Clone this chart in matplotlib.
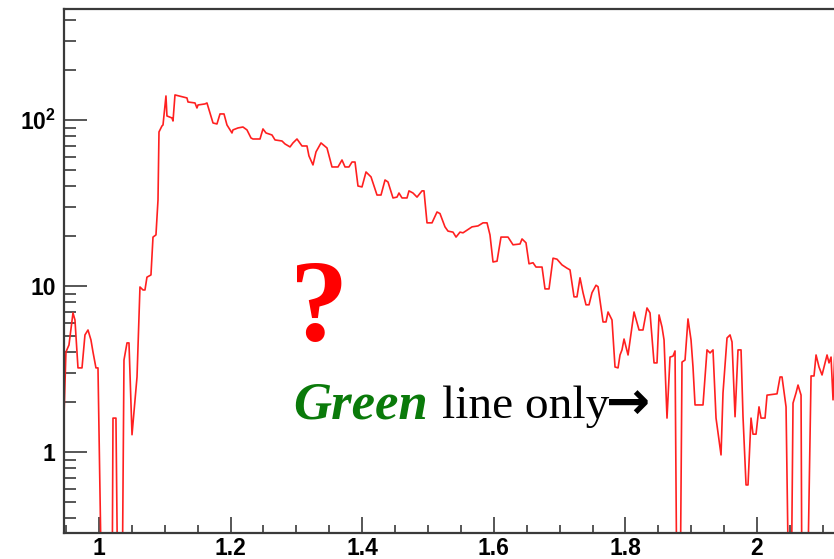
import matplotlib
matplotlib.use("Agg")
import matplotlib.pyplot as plt
import matplotlib.ticker as ticker

plt.rcParams["mathtext.fontset"] = "custom"
plt.rcParams["mathtext.rm"] = "Liberation Sans"
plt.rcParams["mathtext.bf"] = "Liberation Sans:bold"

# histogram (bin centre, entries); 0.1 marks empty bins below the axis
bin_x = [
    0.9468, 0.9498, 0.9544, 0.9605, 0.9635, 0.9681, 0.9742, 0.9787, 0.9833, 0.9878,
    0.9909, 0.9954, 0.9985, 1.0046, 1.0198, 1.0213, 1.0258, 1.0289, 1.0350, 1.0380,
    1.0426, 1.0456, 1.0502, 1.0578, 1.0623, 1.0669, 1.0699, 1.0729, 1.0790, 1.0821,
    1.0866, 1.0897, 1.0912, 1.0957, 1.0973, 1.1018, 1.1033, 1.1109, 1.1125, 1.1155,
    1.1337, 1.1353, 1.1459, 1.1489, 1.1505, 1.1611, 1.1641, 1.1733, 1.1793, 1.1839,
    1.1900, 1.1945, 1.2021, 1.2036, 1.2112, 1.2188, 1.2249, 1.2310, 1.2340, 1.2447,
    1.2492, 1.2538, 1.2629, 1.2675, 1.2781, 1.2827, 1.2903, 1.2948, 1.3009, 1.3085,
    1.3161, 1.3191, 1.3252, 1.3298, 1.3374, 1.3465, 1.3541, 1.3632, 1.3693, 1.3739,
    1.3799, 1.3845, 1.3891, 1.3936, 1.3997, 1.4058, 1.4134, 1.4225, 1.4286, 1.4347,
    1.4392, 1.4468, 1.4529, 1.4559, 1.4605, 1.4681, 1.4711, 1.4772, 1.4833, 1.4909,
    1.4939, 1.4985, 1.5061, 1.5137, 1.5182, 1.5258, 1.5304, 1.5380, 1.5426, 1.5486,
    1.5532, 1.5593, 1.5669, 1.5760, 1.5836, 1.5897, 1.5942, 1.5988, 1.6049, 1.6109,
    1.6216, 1.6292, 1.6398, 1.6429, 1.6489, 1.6535, 1.6596, 1.6641, 1.6733, 1.6778,
    1.6839, 1.6900, 1.6960, 1.7036, 1.7112, 1.7158, 1.7219, 1.7264, 1.7310, 1.7356,
    1.7401, 1.7447, 1.7492, 1.7553, 1.7584, 1.7660, 1.7705, 1.7736, 1.7796, 1.7842,
    1.7888, 1.7918, 1.7948, 1.7979, 1.8040, 1.8131, 1.8207, 1.8267, 1.8328, 1.8374,
    1.8435, 1.8480, 1.8511, 1.8556, 1.8587, 1.8632, 1.8678, 1.8723, 1.8754, 1.8784,
    1.8830, 1.8860, 1.8906, 1.8951, 1.8997, 1.9027, 1.9058, 1.9179, 1.9240, 1.9286,
    1.9331, 1.9377, 1.9453, 1.9483, 1.9544, 1.9590, 1.9620, 1.9666, 1.9711, 1.9757,
    1.9787, 1.9833, 1.9863, 1.9909, 1.9939, 1.9985, 2.0030, 2.0061, 2.0122, 2.0152,
    2.0304, 2.0350, 2.0380, 2.0441, 2.0486, 2.0517, 2.0547, 2.0593, 2.0623, 2.0669,
    2.0684, 2.0760, 2.0821, 2.0866, 2.0897, 2.0942, 2.0988, 2.1064, 2.1094, 2.1125,
    2.1155, 2.1185,
]
counts = [
    1.63, 4.00, 4.41, 6.88, 6.24, 3.21, 3.21, 5.07, 5.43, 4.73,
    4.00, 3.21, 3.21, 0.1, 0.1, 1.60, 1.60, 0.1, 0.1, 3.58,
    4.54, 4.54, 1.27, 2.83, 9.86, 9.46, 9.46, 11.3, 11.65, 19.7,
    20.3, 33.0, 84.7, 92.0, 93.3, 139.5, 105.7, 102.8, 98.6, 141.5,
    135.7, 128.3, 126.6, 118.1, 123.1, 124.9, 126.6, 95.9, 94.6, 108.7,
    108.7, 93.3, 83.5, 87.1, 89.5, 90.7, 87.1, 77.9, 76.8, 76.8,
    88.3, 83.5, 81.2, 75.8, 74.7, 71.7, 68.8, 72.7, 76.8, 69.7,
    69.7, 60.7, 53.6, 64.2, 72.7, 67.8, 52.1, 52.1, 57.4, 52.1,
    52.1, 55.8, 55.8, 40.0, 39.5, 48.6, 45.4, 35.3, 35.3, 43.5,
    42.3, 33.9, 34.3, 36.3, 33.9, 33.9, 37.4, 36.3, 34.3, 37.4,
    37.4, 24.0, 24.0, 27.9, 27.3, 22.7, 21.4, 21.1, 19.7, 21.1,
    20.9, 21.7, 22.7, 23.0, 24.0, 24.0, 20.3, 13.95, 14.1, 19.7,
    19.7, 17.7, 17.9, 19.2, 18.2, 13.6, 13.8, 13.0, 13.0, 9.6,
    9.6, 14.7, 14.5, 13.4, 12.8, 12.5, 8.6, 8.6, 11.2, 9.1,
    7.7, 7.7, 9.1, 10.1, 9.9, 6.07, 6.07, 6.97, 6.24, 3.25,
    3.21, 3.84, 4.12, 4.79, 3.84, 6.97, 5.43, 5.43, 7.37, 6.88,
    3.44, 3.44, 6.69, 5.66, 4.73, 1.60, 3.73, 3.78, 4.06, 0.1,
    0.1, 3.48, 3.58, 6.33, 4.73, 3.25, 1.92, 1.92, 4.12, 3.95,
    4.12, 1.60, 0.96, 2.27, 4.86, 5.07, 4.60, 1.63, 4.12, 4.12,
    1.63, 0.633, 0.633, 1.60, 1.28, 1.28, 1.87, 1.60, 1.60, 2.20,
    2.24, 2.83, 2.83, 1.87, 0.1, 0.1, 1.97, 2.27, 2.53, 2.20,
    0.1, 0.1, 2.87, 2.87, 3.84, 3.25, 2.91, 3.84, 3.44, 3.73,
    2.06, 4.29,
]

x_ticks = [1.0, 1.2, 1.4, 1.6, 1.8, 2.0]
x_labels = ["1", "1.2", "1.4", "1.6", "1.8", "2"]
y_ticks = [1, 10, 100]
y_labels = ["1", "10", r"$\mathbf{10^{2}}$"]

fig = plt.figure(figsize=(8.34, 5.59), dpi=100)
# frame runs past the right edge of the picture, like the cropped original
ax = fig.add_axes([0.0767, 0.0465, 0.9305, 0.9374])

ax.plot(bin_x, counts, color="#ff2020", lw=1.2)

ax.set_yscale("log")
ax.set_xlim(0.9468, 2.1261)
ax.set_ylim(0.325, 466)

ax.set_xticks(x_ticks, x_labels)
ax.xaxis.set_minor_locator(ticker.MultipleLocator(0.05))
ax.set_yticks(y_ticks, y_labels)
ax.yaxis.set_minor_locator(ticker.LogLocator(base=10, subs=range(2, 10)))
ax.yaxis.set_minor_formatter(ticker.NullFormatter())

for side in ["left", "bottom", "top", "right"]:
    ax.spines[side].set_color("#3a3a3a")
    ax.spines[side].set_linewidth(1.6)

ax.tick_params(axis="x", which="major", direction="in", length=11.5, width=1.2,
               color="#3a3a3a", pad=3)
ax.tick_params(axis="x", which="minor", direction="in", length=5.8, width=1.2,
               color="#3a3a3a")
ax.tick_params(axis="y", which="major", direction="in", length=16.5, width=1.2,
               color="#3a3a3a", pad=6)
ax.tick_params(axis="y", which="minor", direction="in", length=8.6, width=1.2,
               color="#3a3a3a")
for lab in ax.get_xticklabels() + ax.get_yticklabels():
    lab.set_fontfamily("Liberation Sans")
    lab.set_fontweight("bold")
    lab.set_fontsize(16.5)

# annotations
fig.text(0.3825, 0.392, "?", color="red", fontsize=84, fontweight="bold",
         family="Liberation Serif", ha="center", va="baseline")
fig.text(0.351, 0.252, "Green", color="#0a7a0a", fontsize=38,
         fontweight="bold", fontstyle="italic", family="Liberation Serif",
         ha="left", va="baseline")
fig.text(0.530, 0.252, "line only", color="black", fontsize=34,
         family="Liberation Serif", ha="left", va="baseline")
fig.text(0.727, 0.2775, "→", color="black", fontsize=38, fontweight="bold",
         family="DejaVu Sans", ha="left", va="center")

fig.savefig("out.png", dpi=100)
